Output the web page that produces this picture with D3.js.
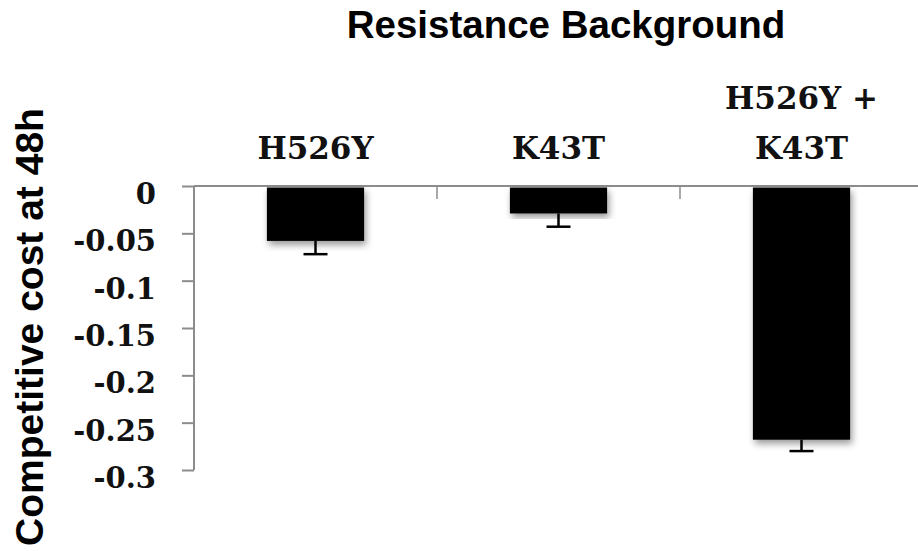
<!DOCTYPE html>
<html>
<head>
<meta charset="utf-8">
<script src="https://cdn.jsdelivr.net/npm/d3@7"></script>
<style>
  body { margin: 0; background: #fff; }
  svg { display: block; }
</style>
</head>
<body>
<div id="chart"></div>
<script>
// chart data
const categories = ["H526Y", "K43T", "H526Y + K43T"];
const labelLines = [["H526Y"], ["K43T"], ["H526Y +", "K43T"]];
const costValues = [-0.058, -0.029, -0.268];
const costErrors = [0.014, 0.014, 0.012];
const yTicks = [0, -0.05, -0.1, -0.15, -0.2, -0.25, -0.3];
const yTickLabels = ["0", "-0.05", "-0.1", "-0.15", "-0.2", "-0.25", "-0.3"];

const width = 918, height = 551;
const plotLeft = 194, plotRight = 923, plotTop = 186, plotBottom = 470;

const svg = d3.select("#chart").append("svg")
    .attr("width", width)
    .attr("height", height);

// soft shadow under bars
const defs = svg.append("defs");
const shadow = defs.append("filter")
    .attr("id", "shadow")
    .attr("x", "-20%").attr("y", "-20%")
    .attr("width", "140%").attr("height", "140%");
shadow.append("feDropShadow")
    .attr("dx", 2).attr("dy", 4)
    .attr("stdDeviation", 3.5)
    .attr("flood-color", "#000")
    .attr("flood-opacity", 0.4);

const x = d3.scaleBand()
    .domain(categories)
    .range([plotLeft, plotRight])
    .paddingInner(0.6)
    .paddingOuter(0.3);

const y = d3.scaleLinear()
    .domain([-0.3, 0])
    .range([plotBottom, plotTop]);

const data = categories.map((c, i) => ({
    cat: c, value: costValues[i], err: costErrors[i], lines: labelLines[i]
}));

const axisColor = "#8c8c8c";
const serif = "'DejaVu Serif', 'Liberation Serif', serif";

// y axis
const yAxis = d3.axisLeft(y)
    .tickValues(yTicks)
    .tickFormat((d, i) => yTickLabels[i])
    .tickSize(12)
    .tickPadding(26);

const gy = svg.append("g")
    .attr("transform", `translate(${plotLeft},0)`)
    .call(yAxis);
gy.select(".domain").attr("stroke", axisColor).attr("stroke-width", 2)
    .attr("d", `M0,${plotTop}V${plotBottom}`);
gy.selectAll(".tick line").attr("stroke", axisColor).attr("stroke-width", 2);
gy.selectAll(".tick text")
    .attr("fill", "#111")
    .attr("dy", "0.6em")
    .style("font-family", serif)
    .style("font-weight", "bold")
    .style("font-size", "29px");

// zero line across the top
svg.append("line")
    .attr("x1", plotLeft).attr("x2", width)
    .attr("y1", y(0)).attr("y2", y(0))
    .attr("stroke", axisColor).attr("stroke-width", 2);

// category separators on the zero line
const step = x.step();
svg.selectAll(".sep")
    .data(categories.slice(1))
    .enter()
    .append("line")
    .attr("class", "sep")
    .attr("x1", d => x(d) - (step - x.bandwidth()) / 2)
    .attr("x2", d => x(d) - (step - x.bandwidth()) / 2)
    .attr("y1", y(0))
    .attr("y2", y(0) + 13)
    .attr("stroke", axisColor)
    .attr("stroke-width", 1.5);

// bars
svg.selectAll(".bar")
    .data(data)
    .enter()
    .append("rect")
    .attr("class", "bar")
    .attr("x", d => x(d.cat))
    .attr("y", y(0) + 1.5)
    .attr("width", x.bandwidth())
    .attr("height", d => y(d.value) - y(0) - 1.5)
    .attr("fill", "#000")
    .attr("filter", "url(#shadow)");

// error bars (downward only)
const eb = svg.selectAll(".err")
    .data(data)
    .enter()
    .append("g")
    .attr("class", "err")
    .attr("stroke", "#000")
    .attr("stroke-width", 2.5);
eb.append("line")
    .attr("x1", d => x(d.cat) + x.bandwidth() / 2)
    .attr("x2", d => x(d.cat) + x.bandwidth() / 2)
    .attr("y1", d => y(d.value))
    .attr("y2", d => y(d.value - d.err));
eb.append("line")
    .attr("x1", d => x(d.cat) + x.bandwidth() / 2 - 12)
    .attr("x2", d => x(d.cat) + x.bandwidth() / 2 + 12)
    .attr("y1", d => y(d.value - d.err))
    .attr("y2", d => y(d.value - d.err));

// category labels above the axis
const lab = svg.selectAll(".cat")
    .data(data)
    .enter()
    .append("text")
    .attr("class", "cat")
    .attr("text-anchor", "middle")
    .attr("fill", "#111")
    .style("font-family", serif)
    .style("font-weight", "bold")
    .style("font-size", "31px");
lab.selectAll("tspan")
    .data(d => d.lines.map((t, i, arr) => ({ t, i, n: arr.length, cx: x(d.cat) + x.bandwidth() / 2 })))
    .enter()
    .append("tspan")
    .attr("x", d => d.cx)
    .attr("y", d => 159 - (d.n - 1 - d.i) * 50)
    .text(d => d.t);

// title
svg.append("text")
    .attr("x", 566)
    .attr("y", 38)
    .attr("text-anchor", "middle")
    .attr("fill", "#000")
    .style("font-family", "'Liberation Sans', Arial, sans-serif")
    .style("font-weight", "bold")
    .style("font-size", "38.5px")
    .text("Resistance Background");

// y axis title
svg.append("text")
    .attr("transform", "translate(43,327) rotate(-90)")
    .attr("text-anchor", "middle")
    .attr("fill", "#000")
    .style("font-family", "'Liberation Sans', Arial, sans-serif")
    .style("font-weight", "bold")
    .style("font-size", "39px")
    .text("Competitive cost at 48h");
</script>
</body>
</html>
